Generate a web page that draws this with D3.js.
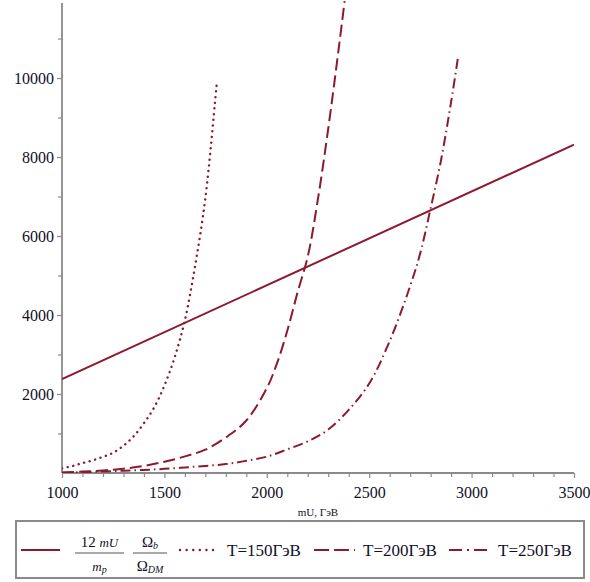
<!DOCTYPE html>
<html>
<head>
<meta charset="utf-8">
<script src="https://cdn.jsdelivr.net/npm/d3@7"></script>
<style>
  body { margin: 0; background: #fff; }
</style>
</head>
<body>
<div id="chart"></div>
<script>
// values (mU in GeV)
var lineX = [1000, 3500];
var lineY = [2376, 8316];

var t150X = [1000, 1050, 1100, 1150, 1200, 1250, 1300, 1350, 1400, 1450, 1500, 1550, 1600, 1650, 1700, 1750, 1755];
var t150Y = [120, 175, 250, 320, 410, 514, 690, 930, 1260, 1660, 2210, 2930, 3870, 5250, 6960, 9550, 9823];

var t200X = [1000, 1100, 1200, 1300, 1400, 1500, 1600, 1700, 1800, 1900, 2000, 2050, 2100, 2150, 2200, 2250, 2300, 2350, 2380];
var t200Y = [15, 35, 65, 110, 180, 285, 420, 590, 900, 1330, 2148, 2780, 3600, 4570, 5480, 6945, 8720, 10700, 11950];

var t250X = [1000, 1100, 1200, 1300, 1400, 1500, 1600, 1700, 1800, 1900, 2000, 2100, 2200, 2300, 2400, 2500, 2600, 2700, 2750, 2800, 2850, 2900, 2935];
var t250Y = [8, 20, 38, 58, 78, 105, 140, 180, 225, 310, 413, 600, 800, 1100, 1600, 2265, 3340, 4735, 5580, 6700, 7900, 9400, 10570];

var xMajor = [1000, 1500, 2000, 2500, 3000, 3500];
var yMajor = [2000, 4000, 6000, 8000, 10000];
var yMinor = [1000, 3000, 5000, 7000, 9000, 11000];

var labels = ['T=150ГэВ', 'T=200ГэВ', 'T=250ГэВ'];

var width = 590, height = 582;
var color = '#8b1a2e';
var axisColor = '#8a8a8a';
var textColor = '#101028';
var serif = 'Liberation Serif';

var svg = d3.select('#chart').append('svg')
    .attr('width', width)
    .attr('height', height)
    .attr('font-family', serif);

var x = d3.scaleLinear().domain([1000, 3500]).range([62, 574]);
var y = d3.scaleLinear().domain([0, 11900]).range([473, 3]);

var xMinor = d3.range(1000, 3501, 100).filter(function (d) { return d % 500 !== 0; });

svg.append('defs').append('clipPath').attr('id', 'plotClip')
    .append('rect')
    .attr('x', x(1000)).attr('y', 0)
    .attr('width', x(3500) - x(1000)).attr('height', y(0));

// axes
var gx = svg.append('g').attr('transform', 'translate(0,' + y(0) + ')');
gx.call(d3.axisBottom(x).tickValues(xMajor).tickSize(5).tickPadding(9).tickFormat(d3.format('d')));
var gxm = svg.append('g').attr('transform', 'translate(0,' + y(0) + ')');
gxm.call(d3.axisBottom(x).tickValues(xMinor).tickSize(4).tickFormat(''));

var gy = svg.append('g').attr('transform', 'translate(' + x(1000) + ',0)');
gy.call(d3.axisLeft(y).tickValues(yMajor).tickSize(5).tickPadding(3).tickFormat(d3.format('d')));
var gym = svg.append('g').attr('transform', 'translate(' + x(1000) + ',0)');
gym.call(d3.axisLeft(y).tickValues(yMinor).tickSize(4).tickFormat(''));

[gx, gxm, gy, gym].forEach(function (g) {
    g.attr('font-family', serif).attr('font-size', 16);
    g.select('.domain').remove();
    g.selectAll('.tick line').attr('stroke', axisColor).attr('stroke-width', 1.2);
    g.selectAll('.tick text')
        .attr('fill', textColor)
        .attr('font-family', serif)
        .attr('font-size', 16);
});

svg.append('line')
    .attr('x1', x(1000)).attr('x2', x(3500))
    .attr('y1', y(0)).attr('y2', y(0))
    .attr('stroke', axisColor).attr('stroke-width', 1.8);
svg.append('line')
    .attr('x1', x(1000)).attr('x2', x(1000))
    .attr('y1', y(0)).attr('y2', y(11900))
    .attr('stroke', axisColor).attr('stroke-width', 1.8);

svg.append('text')
    .attr('x', 318).attr('y', 516)
    .attr('text-anchor', 'middle')
    .attr('font-family', serif)
    .attr('font-size', 11)
    .attr('fill', textColor)
    .text('mU, ГэВ');

// curves
var line = d3.line()
    .x(function (d) { return x(d[0]); })
    .y(function (d) { return y(d[1]); })
    .curve(d3.curveCatmullRom.alpha(0.5));

var series = [
    { xs: lineX, ys: lineY, dash: null, cap: 'butt', w: 2 },
    { xs: t150X, ys: t150Y, dash: '0.1,5.6', cap: 'round', w: 2.4 },
    { xs: t200X, ys: t200Y, dash: '12,5', cap: 'butt', w: 2 },
    { xs: t250X, ys: t250Y, dash: '10,4,1.5,4', cap: 'butt', w: 2 }
];

var plot = svg.append('g').attr('clip-path', 'url(#plotClip)');
series.forEach(function (s) {
    plot.append('path')
        .datum(d3.zip(s.xs, s.ys))
        .attr('fill', 'none')
        .attr('stroke', color)
        .attr('stroke-width', s.w)
        .attr('stroke-linecap', s.cap)
        .attr('stroke-dasharray', s.dash)
        .attr('d', line);
});

// legend
var lg = svg.append('g');
lg.append('rect')
    .attr('x', 16).attr('y', 521)
    .attr('width', 568).attr('height', 57)
    .attr('fill', 'none')
    .attr('stroke', axisColor)
    .attr('stroke-width', 2);

var ly = 550;
var samples = [
    { x1: 21, x2: 60, dash: null, cap: 'butt', w: 2 },
    { x1: 180, x2: 214, dash: '0.1,6.5', cap: 'round', w: 2.4 },
    { x1: 314, x2: 355, dash: '15,5', cap: 'butt', w: 2 },
    { x1: 449, x2: 491, dash: '13,5,2,5', cap: 'butt', w: 2 }
];
samples.forEach(function (s) {
    lg.append('line')
        .attr('x1', s.x1).attr('x2', s.x2)
        .attr('y1', ly).attr('y2', ly)
        .attr('stroke', color)
        .attr('stroke-width', s.w)
        .attr('stroke-linecap', s.cap)
        .attr('stroke-dasharray', s.dash);
});

var textX = [227, 363, 498];
labels.forEach(function (t, i) {
    lg.append('text')
        .attr('x', textX[i]).attr('y', ly + 6)
        .attr('font-family', serif)
        .attr('font-size', 17)
        .attr('fill', textColor)
        .text(t);
});

// stacked fractions in the first legend entry
function fraction(cx, x1, x2, num, den) {
    lg.append('line')
        .attr('x1', x1).attr('x2', x2)
        .attr('y1', ly + 3).attr('y2', ly + 3)
        .attr('stroke', '#555').attr('stroke-width', 1);
    var tn = lg.append('text').attr('x', cx).attr('y', ly - 3)
        .attr('text-anchor', 'middle').attr('font-family', serif).attr('font-size', 15).attr('fill', textColor);
    num(tn);
    var td = lg.append('text').attr('x', cx).attr('y', ly + 21)
        .attr('text-anchor', 'middle').attr('font-family', serif).attr('font-size', 15).attr('fill', textColor);
    den(td);
}

fraction(99.5, 75, 124,
    function (t) {
        t.append('tspan').text('12 ');
        t.append('tspan').attr('font-style', 'italic').attr('font-size', 13).text('mU');
    },
    function (t) {
        t.append('tspan').attr('font-style', 'italic').attr('font-size', 13).text('m');
        t.append('tspan').attr('font-style', 'italic').attr('font-size', 10).attr('dy', 2).text('p');
    });

fraction(150, 133, 167,
    function (t) {
        t.append('tspan').text('Ω');
        t.append('tspan').attr('font-style', 'italic').attr('font-size', 10).attr('dy', 2).text('b');
    },
    function (t) {
        t.append('tspan').text('Ω');
        t.append('tspan').attr('font-style', 'italic').attr('font-size', 10).attr('dy', 2).text('DM');
    });
</script>
</body>
</html>
